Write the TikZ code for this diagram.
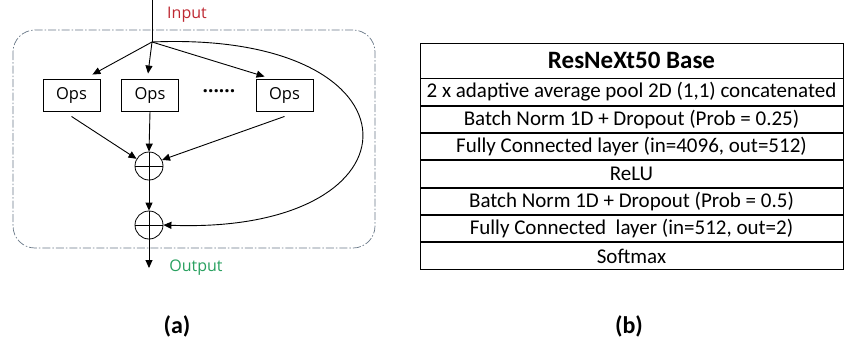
\documentclass[tikz,border=0pt]{standalone}
\usepackage{fontspec}
\setmainfont{Carlito}
\newfontfamily\opsfont{Open Sans}
\usetikzlibrary{positioning,arrows.meta}

\definecolor{inputred}{RGB}{190,40,50}
\definecolor{outputgreen}{RGB}{40,160,95}
\definecolor{framegray}{RGB}{105,120,135}

\begin{document}
\begin{tikzpicture}[x=1pt, y=-1pt, >={Triangle[length=8pt,width=7pt]},
		opsbox/.style={draw, line width=0.9pt, minimum width=57pt, minimum height=32pt, inner sep=0pt, font=\opsfont\fontsize{16.5}{16.5}\selectfont},
		sumnode/.style={circle, draw, line width=0.8pt, minimum size=28pt, inner sep=0pt,
			path picture={\draw[line width=0.8pt] (path picture bounding box.north) -- (path picture bounding box.south)
				(path picture bounding box.west) -- (path picture bounding box.east);}},
		arr/.style={->, line width=0.9pt},
		rowbox/.style={draw, line width=0.9pt, minimum width=423pt, minimum height=26.4pt, inner sep=0pt, font=\fontsize{21}{21}\selectfont},
		headbox/.style={rowbox, minimum height=35pt, font=\bfseries\fontsize{25}{25}\selectfont},
		caption/.style={font=\bfseries\fontsize{24}{24}\selectfont}]
	\useasboundingbox (0,0) rectangle (846,341);

	% Blocco (a)
	\draw[framegray, line width=0.7pt, rounded corners=22pt, dash pattern=on 8pt off 2pt on 1.5pt off 2pt]
		(13,30) rectangle (375,248);
	\coordinate (top) at (152,0);
	\coordinate (split) at (152,42);
	\node[font=\opsfont\fontsize{16}{16}\selectfont, text=inputred] (input) at (187,15) {Input};
	\node[opsbox] (ops1) at (71.5,95) {Ops};
	\node[opsbox] (ops2) at (150,95) {Ops};
	\node[opsbox] (ops3) at (284.5,95) {Ops};
	\node[font=\opsfont\fontsize{19}{19}\selectfont] (dots) at (219,91) {\textbf{......}};
	\node[sumnode] (sum1) at (149,166) {};
	\node[sumnode] (sum2) at (149,225) {};
	\coordinate (out) at (149,268);
	\node[font=\opsfont\fontsize{16}{16}\selectfont, text=outputgreen] (output) at (196,268) {Output};

	% Collegamenti
	\draw[line width=0.9pt] (top) -- (split);
	\draw[arr] (split) -- ([xshift=-8pt,yshift=4pt]ops1.north east);
	\draw[arr] (split) -- ([xshift=-2pt,yshift=5pt]ops2.north);
	\draw[arr] (split) -- ([xshift=9pt,yshift=2pt]ops3.north west);
	\draw[arr] ([yshift=-5pt]ops1.south) -- (sum1.150);
	\draw[arr] (ops2.south) -- (sum1.north);
	\draw[arr] ([yshift=-5pt]ops3.south) -- (sum1.25);
	\draw[arr] (sum1.south) -- (sum2.north);
	\draw[arr] (split) .. controls (430,30) and (430,235) .. (sum2.east);
	\draw[arr] (sum2.south) -- (out);

	% Tabella (b)
	\node[headbox] (head) at (631.5,60.5) {ResNeXt50 Base};
	\node[rowbox, below=0pt of head] (row1) {2 x adaptive average pool 2D (1,1) concatenated};
	\node[rowbox, below=0pt of row1] (row2) {Batch Norm 1D + Dropout (Prob = 0.25)};
	\node[rowbox, below=0pt of row2] (row3) {Fully Connected layer (in=4096, out=512)};
	\node[rowbox, below=0pt of row3] (row4) {ReLU};
	\node[rowbox, below=0pt of row4] (row5) {Batch Norm 1D + Dropout (Prob = 0.5)};
	\node[rowbox, below=0pt of row5] (row6) {Fully Connected\ \ layer (in=512, out=2)};
	\node[rowbox, below=0pt of row6] (row7) {Softmax};

	% Didascalie
	\node[caption] (capa) at (177,326) {(a)};
	\node[caption] (capb) at (629,326) {(b)};
\end{tikzpicture}
\end{document}
